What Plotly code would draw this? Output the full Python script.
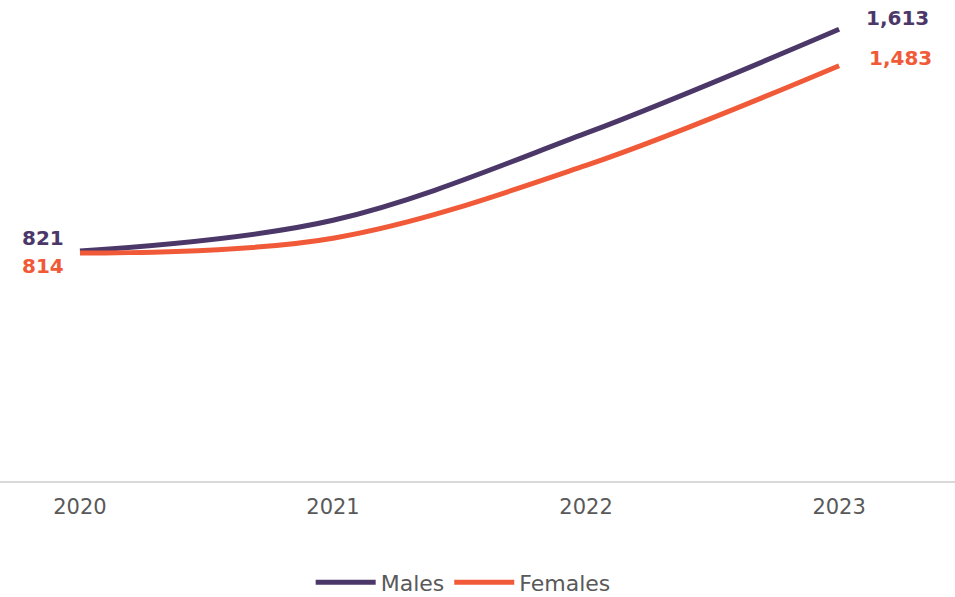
import plotly.graph_objects as go

years = ["2020", "2021", "2022", "2023"]
males = [821, 931, 1242, 1613]
females = [814, 867, 1127, 1483]

male_color = "#4B3869"
female_color = "#F05A38"

fig = go.Figure()
fig.add_trace(go.Scatter(x=years, y=males, name="Males", mode="lines",
                         line=dict(color=male_color, width=5, shape="spline", smoothing=1)))
fig.add_trace(go.Scatter(x=years, y=females, name="Females", mode="lines",
                         line=dict(color=female_color, width=5, shape="spline", smoothing=1)))


def add_label(idx, values, color, xshift, yshift, anchor):
    """Bold value label next to an end point of a series."""
    v = values[idx]
    fig.add_annotation(x=idx, y=v, xref="x", yref="y", text=f"<b>{v:,}</b>",
                       showarrow=False,
                       font=dict(family="DejaVu Sans", size=20, color=color),
                       xanchor=anchor, yanchor="middle", xshift=xshift, yshift=yshift)


last = len(years) - 1
add_label(0, males, male_color, -14, 13, "right")
add_label(0, females, female_color, -14, -13, "right")
add_label(last, males, male_color, 25, 11, "left")
add_label(last, females, female_color, 28, 8, "left")

fig.update_layout(
    width=955, height=597,
    margin=dict(l=0, r=0, t=10, b=115.5, autoexpand=False),
    plot_bgcolor="white", paper_bgcolor="white",
    font=dict(family="DejaVu Sans", color="#595959"),
    showlegend=True,
    legend=dict(orientation="h", x=0.485, xanchor="center", y=-0.2153, yanchor="middle",
                font=dict(size=22, color="#595959"), itemwidth=60, traceorder="normal"),
    xaxis=dict(type="category", range=[-0.316, 3.458], showgrid=False, zeroline=False,
               showline=True, linecolor="#d9d9d9", linewidth=2,
               ticks="", tickfont=dict(size=21, color="#595959"), ticklabelstandoff=6),
    yaxis=dict(range=[0, 1682], visible=False, showgrid=False, zeroline=False),
)

fig.write_html("out.html")
